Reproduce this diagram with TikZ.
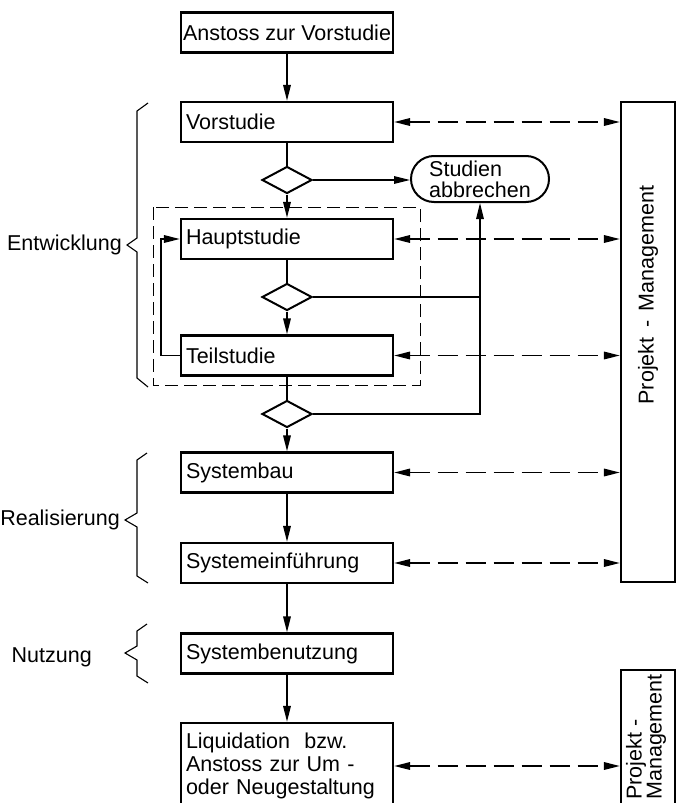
\documentclass[tikz,border=0pt]{standalone}
\usepackage{fontspec}
\setmainfont{Liberation Sans}
\usetikzlibrary{arrows.meta,shapes.geometric}

\begin{document}
\begin{tikzpicture}[x=1pt,y=-1pt,
		every node/.style={font=\fontsize{21.5}{23}\selectfont, inner sep=0pt},
		frame/.style={draw, line width=2.2pt, minimum width=212pt, minimum height=40pt},
		box/.style={frame, text width=202pt, align=left},
		dia/.style={draw, diamond, line width=2pt, minimum width=50pt, minimum height=27pt},
		pmbox/.style={draw, line width=2.2pt, minimum width=54pt},
		flow/.style={line width=1.6pt, -{Triangle[length=16pt,width=7.5pt]}},
		link/.style={line width=1.6pt},
		pmarrow/.style={line width=1.6pt, dash pattern=on 20pt off 8pt, {Triangle[length=16pt,width=7.5pt]}-{Triangle[length=16pt,width=7.5pt]}},
		phase/.style={line width=1.1pt}]
	\useasboundingbox (0,0) rectangle (683,803);
	\clip (0,0) rectangle (683,803);

	\node[frame] (anstoss) at (287,32.5) {Anstoss zur Vorstudie};
	\node[box] (vor) at (287,122) {Vorstudie};
	\node[dia] (d1) at (287,180) {};
	\node[draw, line width=2pt, rounded corners=23pt, minimum width=138pt, minimum height=46pt, align=left, font=\fontsize{21.5}{21}\selectfont] (abbr) at (480,179) {Studien\\abbrechen};
	\node[box] (haupt) at (287,239) {Hauptstudie};
	\node[dia] (d2) at (287,297) {};
	\node[box] (teil) at (287,355.5) {Teilstudie};
	\node[dia] (d3) at (287,414) {};
	\node[box] (sysbau) at (287,472.5) {Systembau};
	\node[box] (syseinf) at (287,563) {Systemeinführung};
	\node[box] (sysnutz) at (287,653.5) {Systembenutzung};
	\node[box, minimum height=86pt] (liqu) at (287,766) {Liquidation~~bzw.\\Anstoss zur Um -\\oder Neugestaltung};

	\node[pmbox, minimum height=480pt] (pm) at (648,342) {};
	\node[rotate=90] (pmtext) at (648,295) {Projekt \,-\, Management};
	\node[pmbox, minimum height=140pt] (pmend) at (648,740) {};
	\node[rotate=90, align=left, font=\fontsize{21.5}{20}\selectfont] (pmendtext) at (646,737) {Projekt -\\Management};

	\draw[line width=1pt, dash pattern=on 13pt off 6pt] (153,207) rectangle (420,385);

	\draw[flow] (anstoss) -- (vor);
	\draw[link] (vor) -- (d1);
	\draw[flow] (d1) -- (haupt);
	\draw[flow] (d1.east) -- (d1.east -| abbr.west);
	\draw[link] (haupt) -- (d2);
	\draw[flow] (d2) -- (teil);
	\draw[link] (teil) -- (d3);
	\draw[flow] (d3) -- (sysbau);
	\draw[flow] (sysbau) -- (syseinf);
	\draw[flow] (syseinf) -- (sysnutz);
	\draw[flow] (sysnutz) -- (liqu);
	\draw[flow] (teil.west) -- ++(-19,0) |- (haupt.west);
	\draw[link] (d2.east) -- (d2.east -| abbr.south);
	\draw[flow] (d3.east) -| (abbr.south);

	\foreach \n in {vor,haupt,teil,sysbau,syseinf}
		\draw[pmarrow] (\n.east) -- (\n.east -| pm.west);
	\draw[pmarrow] (liqu.east) -- (liqu.east -| pmend.west);

	\draw[phase] (148,103) -- (137,111) -- (137,238) -- (127,245) -- (137,252) -- (137,378) -- (148,387);
	\node[anchor=east] (entw) at (122,245) {Entwicklung};
	\draw[phase] (147,453) -- (137,460) -- (137,513) -- (125,520) -- (137,527) -- (137,576) -- (148,583);
	\node[anchor=east] (real) at (120,520) {Realisierung};
	\draw[phase] (147,624) -- (137,631) -- (137,646) -- (125,653) -- (137,660) -- (137,676) -- (148,683);
	\node[anchor=east] (nutz) at (92,657) {Nutzung};
\end{tikzpicture}
\end{document}
